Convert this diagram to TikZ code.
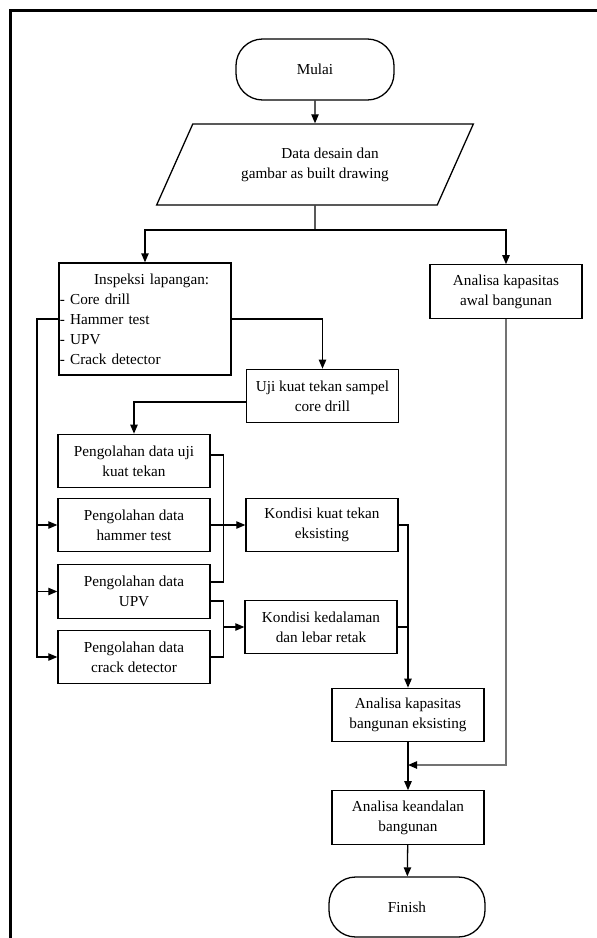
\documentclass[tikz,border=0pt]{standalone}
\usepackage{fontspec}
\setmainfont{Liberation Serif}
\usetikzlibrary{arrows.meta}
\usetikzlibrary{shapes.geometric}
\definecolor{linegray}{RGB}{115,115,115}
\tikzstyle{every node}=[font=\fontsize{13}{17}\selectfont]
\tikzstyle{every path}=[line width=1.1pt,line join=miter]
\tikzstyle{box}=[draw,rectangle,align=center,minimum width=4.56cm,minimum height=1.6cm,inner sep=1pt]
\tikzstyle{terminal}=[draw,rectangle,rounded corners=0.8cm,minimum width=4.74cm,minimum height=1.83cm]
\tikzstyle{io}=[draw,trapezium,trapezium left angle=45,trapezium right angle=135,trapezium stretches body,minimum width=9.5cm,minimum height=2.43cm,align=center,inner sep=1pt]
\tikzstyle{flow}=[-{Triangle[length=0.27cm,width=0.22cm]}]
\tikzstyle{grayflow}=[draw=linegray,-{Triangle[length=0.27cm,width=0.22cm,color=black]}]

\begin{document}
\begin{tikzpicture}[x=0.03cm,y=-0.03cm]
    \useasboundingbox (0,0) rectangle (597,938);
    % Page frame (only top and left edges show)
    \draw[line width=2.6pt] (597,10.5) -- (10.5,10.5) -- (10.5,938);

    % Start and input data
    \node[terminal] (mulai) at (315,69.5) {Mulai};
    \node[io] (data) at (315,164.5) {\hspace*{0.9cm}Data desain dan\\gambar as built drawing};

    % Field inspection and its branches
    \node[box,minimum width=5.16cm,minimum height=3.36cm,text width=5.1cm,align=left,inner xsep=0.5pt] (inspeksi) at (145,319)
        {\makebox[5.1cm]{\hspace{0.4cm}Inspeksi lapangan:}\\- Core drill\\- Hammer test\\- UPV\\- Crack detector};
    \node[box] (awal) at (506,291.5) {Analisa kapasitas\\awal bangunan};
    \node[box] (uji) at (322.5,396) {Uji kuat tekan sampel\\core drill};

    % Data processing (left column)
    \node[box] (penguji) at (134,461) {Pengolahan data uji\\kuat tekan};
    \node[box] (hammer) at (134,525) {Pengolahan data\\hammer test};
    \node[box] (upv) at (134,591.5) {Pengolahan data\\UPV};
    \node[box] (crack) at (134,657) {Pengolahan data\\crack detector};

    % Conditions (middle column)
    \node[box] (kuat) at (322,525) {Kondisi kuat tekan\\eksisting};
    \node[box] (retak) at (321,627) {Kondisi kedalaman\\dan lebar retak};

    % Analysis and end
    \node[box] (eksisting) at (408,715) {Analisa kapasitas\\bangunan eksisting};
    \node[box] (keandalan) at (408,817.5) {Analisa keandalan\\bangunan};
    \node[terminal,minimum width=4.68cm,minimum height=1.8cm] (finish) at (407,907) {Finish};

    % Named coordinates for forks and joins
    \coordinate (fork) at (315,230);
    \coordinate (lbus) at (37,319);
    \coordinate (mbus) at (223,0);
    \coordinate (merge) at (408,765);

    % Top part
    \draw[flow] (mulai) -- (data);
    \draw (data.south) -- (fork);
    \draw[flow] (fork) -| (inspeksi.north);
    \draw[flow] (fork) -| (awal.north);
    \draw[flow] (inspeksi.east) -| (uji.north);

    % Left bus into the processing boxes
    \draw[flow] (inspeksi.west) -- (lbus) |- (crack.west);
    \draw[flow] (lbus |- hammer.west) -- (hammer.west);
    \draw[flow] (lbus |- upv.west) -- (upv.west);
    \draw[flow] ([yshift=-0.18cm]uji.west) -| (penguji.north);

    % Middle buses into the conditions
    \draw ([yshift=0.18cm]penguji.east) -- ++(13,0) |- ([yshift=0.285cm]upv.east);
    \draw[flow] (hammer.east) -- (kuat.west);
    \draw ([yshift=-0.285cm]upv.east) -- ++(13,0) |- (crack.east);
    \draw[flow] (mbus |- retak.west) -- (retak.west);

    % Right part
    \draw[flow] (kuat.east) -| (eksisting.north);
    \draw (retak.east) -- (retak.east -| eksisting.north);
    \draw[flow] (eksisting) -- (keandalan);
    \draw[grayflow] (awal.south) |- (merge);
    \draw[flow] (keandalan) -- (finish);
\end{tikzpicture}
\end{document}
